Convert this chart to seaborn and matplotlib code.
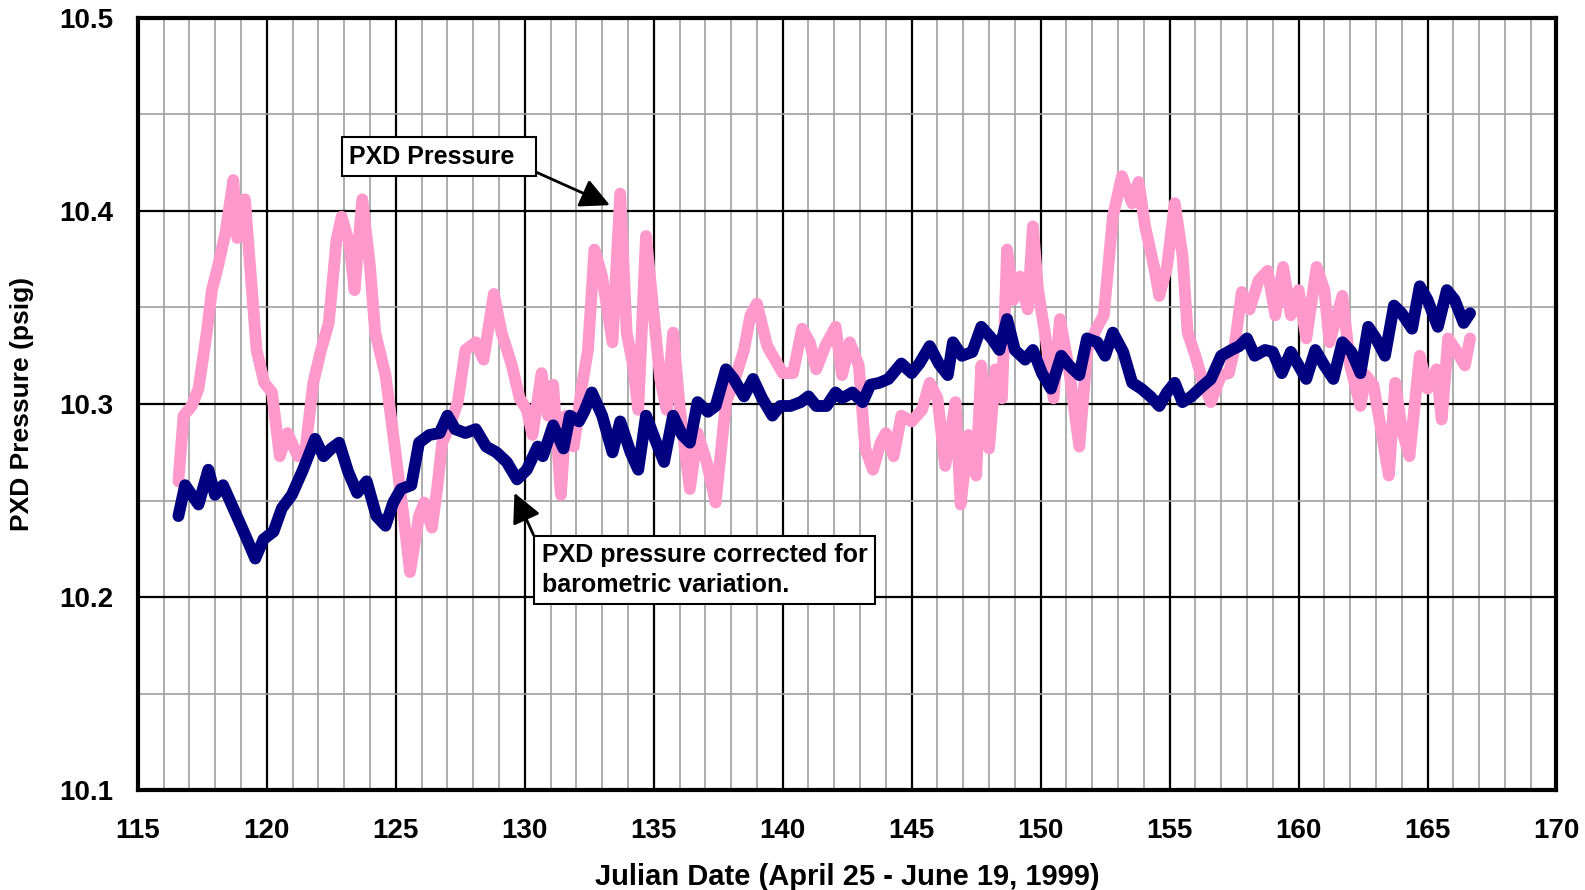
import numpy as np
import pandas as pd
import matplotlib
matplotlib.use("Agg")
import matplotlib.pyplot as plt
from matplotlib.ticker import MultipleLocator, FormatStrFormatter
import seaborn as sns

# ---------------- data ----------------
# PXD Pressure (raw)
raw_day = [116.57, 116.77, 117.09, 117.35, 117.67, 117.87, 118.1, 118.4, 118.7, 118.85, 119.15, 119.35, 119.6,
           119.9, 120.2, 120.5, 120.8, 121.2, 121.5, 121.8, 122.1, 122.4, 122.7, 122.9, 123.2, 123.4, 123.7,
           124.0, 124.2, 124.6, 124.9, 125.3, 125.55, 125.9, 126.1, 126.4, 126.6, 126.8, 127.1, 127.4, 127.7,
           128.1, 128.4, 128.8, 129.1, 129.5, 129.8, 130.08, 130.3, 130.65, 130.9, 131.1, 131.4, 131.6, 131.9,
           132.2, 132.45, 132.7, 133.0, 133.4, 133.7, 133.95, 134.2, 134.4, 134.7, 135.0, 135.25, 135.5, 135.75,
           136.0, 136.4, 136.7, 137.05, 137.4, 137.8, 138.1, 138.5, 138.75, 139.0, 139.4, 139.7, 140.0, 140.4,
           140.75, 141.05, 141.3, 141.65, 142.05, 142.3, 142.6, 142.95, 143.2, 143.5, 143.8, 144.0, 144.3, 144.6,
           145.0, 145.4, 145.7, 146.0, 146.3, 146.7, 146.9, 147.2, 147.5, 147.7, 148.0, 148.25, 148.5, 148.7,
           148.95, 149.2, 149.5, 149.7, 149.9, 150.2, 150.5, 150.75, 151.1, 151.5, 151.8, 152.2, 152.45, 152.8,
           153.15, 153.55, 153.8, 154.05, 154.4, 154.6, 154.9, 155.2, 155.5, 155.7, 156.0, 156.3, 156.6, 157.0,
           157.3, 157.5, 157.8, 158.1, 158.45, 158.8, 159.1, 159.4, 159.7, 160.0, 160.3, 160.7, 161.0, 161.2,
           161.7, 162.0, 162.4, 162.6, 162.9, 163.2, 163.5, 163.75, 164.0, 164.3, 164.7, 165.0, 165.35, 165.55,
           165.8, 166.1, 166.45, 166.65]
raw_psig = [10.260, 10.294, 10.299, 10.308, 10.337, 10.359, 10.371, 10.389, 10.416, 10.386, 10.406, 10.371, 10.328,
            10.311, 10.306, 10.273, 10.285, 10.273, 10.277, 10.311, 10.328, 10.342, 10.385, 10.397, 10.383, 10.359, 10.406,
            10.371, 10.337, 10.315, 10.284, 10.242, 10.213, 10.242, 10.249, 10.236, 10.256, 10.280, 10.289, 10.301, 10.328,
            10.332, 10.323, 10.357, 10.337, 10.320, 10.303, 10.297, 10.284, 10.316, 10.294, 10.310, 10.253, 10.294, 10.278,
            10.308, 10.328, 10.380, 10.366, 10.332, 10.409, 10.337, 10.320, 10.297, 10.387, 10.346, 10.313, 10.297, 10.337,
            10.299, 10.256, 10.285, 10.270, 10.249, 10.301, 10.311, 10.328, 10.346, 10.352, 10.330, 10.323, 10.316, 10.316,
            10.339, 10.332, 10.318, 10.330, 10.340, 10.315, 10.332, 10.320, 10.277, 10.266, 10.280, 10.285, 10.273, 10.294,
            10.291, 10.297, 10.311, 10.303, 10.268, 10.301, 10.248, 10.284, 10.263, 10.320, 10.277, 10.318, 10.303, 10.380,
            10.354, 10.366, 10.349, 10.392, 10.359, 10.334, 10.303, 10.344, 10.318, 10.278, 10.328, 10.340, 10.346, 10.397,
            10.418, 10.404, 10.415, 10.392, 10.371, 10.356, 10.371, 10.404, 10.377, 10.337, 10.325, 10.311, 10.301, 10.315,
            10.316, 10.328, 10.358, 10.349, 10.364, 10.369, 10.346, 10.371, 10.346, 10.359, 10.334, 10.371, 10.359, 10.332,
            10.356, 10.320, 10.299, 10.315, 10.310, 10.287, 10.263, 10.311, 10.287, 10.273, 10.325, 10.308, 10.318, 10.292,
            10.334, 10.328, 10.320, 10.334]

# PXD pressure corrected for barometric variation
corr_day = [116.57, 116.83, 117.09, 117.35, 117.73, 117.99, 118.3, 118.7, 119.1, 119.55, 119.87, 120.26, 120.58,
            120.97, 121.4, 121.87, 122.2, 122.5, 122.8, 123.15, 123.5, 123.87, 124.25, 124.6, 124.9, 125.2, 125.6,
            125.9, 126.3, 126.7, 127.0, 127.3, 127.7, 128.1, 128.5, 128.9, 129.3, 129.7, 130.08, 130.5, 130.7,
            131.1, 131.5, 131.75, 132.1, 132.3, 132.6, 133.0, 133.4, 133.7, 134.1, 134.4, 134.7, 135.1, 135.4,
            135.75, 136.1, 136.4, 136.7, 137.1, 137.4, 137.8, 138.1, 138.5, 138.85, 139.2, 139.6, 139.9, 140.3,
            140.7, 141.0, 141.3, 141.7, 142.05, 142.3, 142.7, 143.1, 143.4, 143.75, 144.1, 144.6, 145.0, 145.3,
            145.7, 146.05, 146.4, 146.6, 146.95, 147.35, 147.7, 148.1, 148.4, 148.7, 149.0, 149.4, 149.7, 150.05,
            150.4, 150.8, 151.1, 151.5, 151.8, 152.2, 152.5, 152.8, 153.2, 153.55, 153.9, 154.25, 154.6, 154.9,
            155.2, 155.5, 155.85, 156.25, 156.6, 157.0, 157.4, 157.7, 158.0, 158.3, 158.7, 159.0, 159.35, 159.7,
            160.0, 160.3, 160.65, 161.0, 161.35, 161.7, 162.05, 162.4, 162.7, 163.0, 163.35, 163.7, 164.0, 164.4,
            164.7, 165.0, 165.4, 165.75, 166.05, 166.4, 166.65]
corr_psig = [10.242, 10.258, 10.253, 10.248, 10.266, 10.253, 10.258, 10.246, 10.234, 10.220, 10.230, 10.234, 10.246,
             10.253, 10.266, 10.282, 10.273, 10.277, 10.280, 10.265, 10.254, 10.260, 10.242, 10.237, 10.249, 10.256, 10.258,
             10.280, 10.284, 10.285, 10.294, 10.287, 10.285, 10.287, 10.278, 10.275, 10.270, 10.261, 10.266, 10.278, 10.273,
             10.289, 10.277, 10.294, 10.291, 10.296, 10.306, 10.294, 10.275, 10.291, 10.275, 10.266, 10.294, 10.280, 10.270,
             10.294, 10.284, 10.280, 10.301, 10.296, 10.299, 10.318, 10.313, 10.304, 10.313, 10.303, 10.294, 10.299, 10.299,
             10.301, 10.304, 10.299, 10.299, 10.306, 10.303, 10.306, 10.301, 10.310, 10.311, 10.313, 10.321, 10.316, 10.321,
             10.330, 10.321, 10.315, 10.332, 10.325, 10.327, 10.340, 10.334, 10.328, 10.344, 10.328, 10.323, 10.328, 10.316,
             10.308, 10.325, 10.320, 10.315, 10.334, 10.332, 10.325, 10.337, 10.327, 10.311, 10.308, 10.304, 10.299, 10.306,
             10.311, 10.301, 10.304, 10.309, 10.313, 10.325, 10.328, 10.330, 10.334, 10.325, 10.328, 10.327, 10.316, 10.327,
             10.320, 10.313, 10.328, 10.320, 10.313, 10.332, 10.327, 10.316, 10.340, 10.334, 10.325, 10.351, 10.347, 10.339,
             10.361, 10.354, 10.340, 10.359, 10.354, 10.342, 10.347]

x_ticks = [115, 120, 125, 130, 135, 140, 145, 150, 155, 160, 165, 170]
y_ticks = [10.1, 10.2, 10.3, 10.4, 10.5]
x_label = "Julian Date (April 25 - June 19, 1999)"
y_label = "PXD Pressure (psig)"
raw_note = "PXD Pressure"
corr_note = "PXD pressure corrected for\nbarometric variation."

# ---------------- plot ----------------
sns.set_theme(style="white")
plt.rcParams['font.family'] = ['Liberation Sans', 'DejaVu Sans']
plt.rcParams['text.color'] = 'black'
plt.rcParams['axes.labelcolor'] = 'black'
plt.rcParams['xtick.color'] = 'black'
plt.rcParams['ytick.color'] = 'black'

fig = plt.figure(figsize=(15.85, 8.9), dpi=100)
ax = fig.add_axes([0.087, 0.112, 0.895, 0.868])

df_raw = pd.DataFrame({"day": raw_day, "psig": raw_psig})
df_corr = pd.DataFrame({"day": corr_day, "psig": corr_psig})

sns.lineplot(data=df_raw, x="day", y="psig", ax=ax, color="#FF99CC", linewidth=8.5, zorder=3)
sns.lineplot(data=df_corr, x="day", y="psig", ax=ax, color="#000080", linewidth=8.5, zorder=4)

ax.set_xlim(115, 170)
ax.set_ylim(10.1, 10.5)
ax.set_xticks(x_ticks)
ax.set_yticks(y_ticks)
ax.xaxis.set_minor_locator(MultipleLocator(1))
ax.yaxis.set_minor_locator(MultipleLocator(0.05))
ax.yaxis.set_major_formatter(FormatStrFormatter('%.1f'))

ax.grid(which="major", color="black", linewidth=1.6, zorder=1)
ax.grid(which="minor", color="#a0a0a0", linewidth=1.2, zorder=1)
ax.set_axisbelow(True)

for s in ax.spines.values():
    s.set_visible(True)
    s.set_color("black")
    s.set_linewidth(3)

ax.tick_params(axis="both", which="major", labelsize=20, length=4, width=1,
               direction="out", labelcolor="black")
ax.tick_params(axis="x", which="major", pad=16)
ax.tick_params(axis="y", which="major", pad=14)
ax.tick_params(axis="both", which="minor", length=0)
for lbl in ax.get_xticklabels() + ax.get_yticklabels():
    lbl.set_fontweight("bold")

ax.set_xlabel(x_label, fontsize=21, fontweight="bold", color="black")
ax.set_ylabel(y_label, fontsize=19, fontweight="bold", color="black")
ax.xaxis.label.set_va("center")
ax.yaxis.label.set_va("center")
ax.xaxis.set_label_coords(0.5, -0.112)
ax.yaxis.set_label_coords(-0.0818, 0.5)

box = dict(boxstyle="square,pad=0.3", facecolor="white", edgecolor="black", linewidth=1.5)

ax.annotate(raw_note + "  ", xy=(133.3, 10.403), xytext=(123.2, 10.428), textcoords="data",
            fontsize=18, fontweight="bold", ha="left", va="center", bbox=box,
            arrowprops=dict(arrowstyle="-|>,head_length=1.0,head_width=0.5", color="black",
                            linewidth=2, shrinkA=0, shrinkB=0, relpos=(1.0, 0.0)), zorder=6)

ax.annotate(corr_note, xy=(129.6, 10.254), xytext=(130.65, 10.2141), textcoords="data",
            fontsize=18, fontweight="bold", ha="left", va="center", bbox=box,
            linespacing=1.3,
            arrowprops=dict(arrowstyle="-|>,head_length=1.0,head_width=0.5", color="black",
                            linewidth=2, shrinkA=0, shrinkB=0, relpos=(0.0, 0.82)), zorder=6)

fig.savefig("out.png", dpi=100)
